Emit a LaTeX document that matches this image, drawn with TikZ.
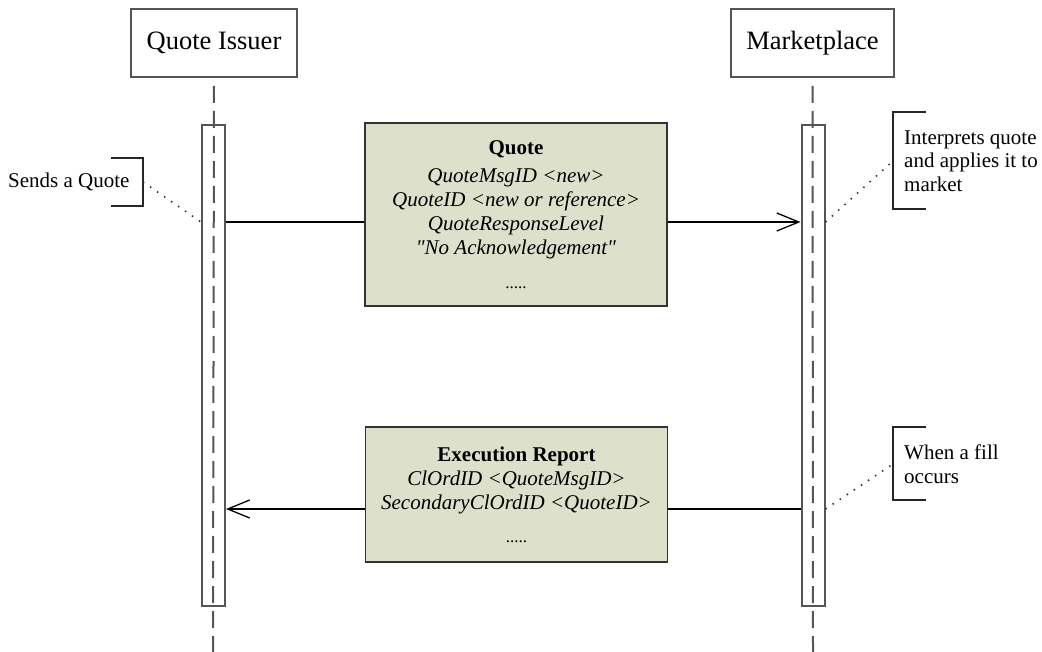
\documentclass[tikz,border=0pt]{standalone}
\usepackage{fontspec}
\setmainfont{Liberation Serif}
\usetikzlibrary{arrows.meta}
\definecolor{msgfill}{RGB}{221,224,203}
\definecolor{lifegray}{RGB}{85,85,85}

\begin{document}
\begin{tikzpicture}[x=1pt, y=-1pt,
    actor/.style    = {draw=lifegray, line width=2pt, minimum height=68pt, font=\fontsize{26.5}{30}\selectfont},
    lifeline/.style = {lifegray, line width=2pt, dash pattern=on 17pt off 8pt, dash phase=17pt},
    bar/.style      = {draw=lifegray, line width=2pt, minimum width=23pt, minimum height=481pt},
    msgbox/.style   = {draw=black!80, line width=1.5pt, fill=msgfill, align=center, minimum width=302pt, font=\fontsize{21}{24}\selectfont},
    msg/.style      = {line width=1.3pt},
    note/.style     = {align=left, inner sep=0pt, font=\fontsize{21}{23.5}\selectfont},
    bracket/.style  = {draw=black!85, line width=1.8pt},
    link/.style     = {black!80, line width=1.6pt, dash pattern=on 1.5pt off 7pt}]
    \useasboundingbox (0,0) rectangle (1042,652);
    % participants
    \node[actor, minimum width=166pt] (issuer) at (214,43) {Quote Issuer};
    \node[actor, minimum width=163pt] (market) at (812.5,43) {Marketplace};
    \node[bar] (issuerbar) at (213.5,365.5) {};
    \node[bar] (marketbar) at (813,365.5) {};
    \coordinate (issuerend) at (213,652);
    \coordinate (marketend) at (813,652);
    \draw[lifeline] (issuer.south) -- (issuerend);
    \draw[lifeline] (market.south) -- (marketend);
    %
    \coordinate (qy) at (0,222);
    \coordinate (ey) at (0,509);
    % messages
    \node[msgbox, minimum height=183pt] (quotemsg) at (516,214.5) {%
      \textbf{Quote}\\[4pt]
      \textit{QuoteMsgID <new>}\\
      \textit{QuoteID <new or reference>}\\
      \textit{QuoteResponseLevel}\\
      \textit{\textquotedbl No Acknowledgement\textquotedbl}\\[10pt]
      {\fontsize{17}{20}\selectfont .....}};
    \node[msgbox, minimum height=135pt] (execmsg) at (516.5,494.5) {%
      \textbf{Execution Report}\\
      \textit{ClOrdID <QuoteMsgID>}\\
      \textit{SecondaryClOrdID <QuoteID>}\\[9pt]
      {\fontsize{17}{20}\selectfont .....}};
    \draw[msg] (issuerbar.east |- qy) -- (quotemsg.west |- qy);
    \draw[msg, -{Straight Barb[length=22pt,width=18pt,line width=1.3pt]}] (quotemsg.east |- qy) -- (marketbar.west |- qy);
    \draw[msg] (marketbar.west |- ey) -- (execmsg.east |- ey);
    \draw[msg, -{Straight Barb[length=22pt,width=18pt,line width=1.3pt]}] (execmsg.west |- ey) -- (issuerbar.east |- ey);
    % notes
    \node[note, anchor=west] (sendsnote) at (8,182) {Sends a Quote};
    \draw[bracket] (111,158) -| (143,206) -- (111,206);
    \coordinate (sendsmid) at (143,182);
    \draw[link] (sendsmid) -- (issuerbar.west |- qy);
    %
    \node[note, anchor=west] (interpnote) at (904,161) {Interprets quote\\and applies it to\\market};
    \draw[bracket] (926,112) -| (893,209) -- (926,209);
    \coordinate (interpmid) at (893,161);
    \draw[link] (marketbar.east |- qy) -- (interpmid);
    %
    \node[note, anchor=west] (fillnote) at (904,464) {When a fill\\occurs};
    \draw[bracket] (926,427) -| (893,500) -- (926,500);
    \coordinate (fillmid) at (893,464);
    \draw[link] (marketbar.east |- ey) -- (fillmid);
\end{tikzpicture}
\end{document}
